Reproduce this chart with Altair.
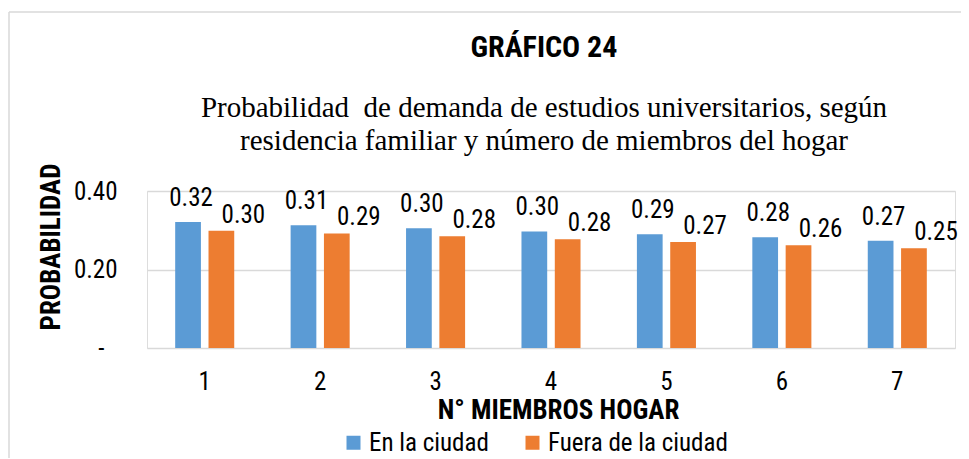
import altair as alt
import pandas as pd

# ---- data ----
miembros = ["1", "2", "3", "4", "5", "6", "7"]
en_ciudad = [0.321, 0.313, 0.305, 0.297, 0.290, 0.282, 0.273]
fuera_ciudad = [0.299, 0.292, 0.285, 0.277, 0.270, 0.262, 0.254]
series = ["En la ciudad", "Fuera de la ciudad"]
colors = ["#5B9BD5", "#ED7D31"]
y_ticks = [0, 0.2, 0.4]

rows = []
for m, a, b in zip(miembros, en_ciudad, fuera_ciudad):
    rows.append({"miembros": m, "serie": series[0], "prob": a})
    rows.append({"miembros": m, "serie": series[1], "prob": b})
df = pd.DataFrame(rows)

sans = "Liberation Sans Narrow, Arial Narrow, Roboto Condensed, sans-serif"
serif = "Liberation Serif, Times New Roman, serif"
grid = "#d9d9d9"

x = alt.X(
    "miembros:N", sort=miembros,
    scale=alt.Scale(paddingInner=0, paddingOuter=0),
    axis=alt.Axis(
        title="N° MIEMBROS HOGAR", labelAngle=0, ticks=False, domain=False,
        labelPadding=21, labelFontSize=25, labelFont=sans, labelColor="#000",
        titleFont=sans, titleFontSize=27, titleFontWeight="bold", titleColor="#000",
        titleX=411, titleY=70, titleBaseline="alphabetic", titleAlign="center",
    ),
)
xo = alt.XOffset("serie:N", sort=series,
                 scale=alt.Scale(domain=series, paddingInner=0.228, paddingOuter=0.846))
y = alt.Y(
    "prob:Q",
    scale=alt.Scale(domain=[0, 0.4], nice=False),
    axis=alt.Axis(
        values=y_ticks, title="PROBABILIDAD",
        labelExpr="datum.value == 0 ? '-' : format(datum.value, '.2f')",
        ticks=False, domain=False, gridColor=grid, gridWidth=1.3,
        labelPadding={"condition": {"test": "datum.value == 0", "value": 43}, "value": 30},
        labelFontSize=25, labelFont=sans, labelColor="#000",
        titleFont=sans, titleFontSize=27, titleFontWeight="bold", titleColor="#000",
        titleAngle=-90, titleX=-88, titleY=55.5, titleBaseline="alphabetic",
        titleAlign="center",
    ),
)

base = alt.Chart(df)

bars = base.mark_bar().encode(
    x=x, xOffset=xo, y=y,
    color=alt.Color(
        "serie:N", sort=series,
        scale=alt.Scale(domain=series, range=colors),
        legend=alt.Legend(
            title=None, orient="none", legendX=194, legendY=239,
            direction="horizontal", symbolType="square", symbolSize=196,
            symbolStrokeWidth=0, labelFontSize=25, labelFont=sans,
            labelColor="#000", labelOffset=3, columnPadding=31, padding=0,
            labelLimit=400,
        ),
    ),
)

txt_blue = base.transform_filter(alt.datum.serie == series[0]).mark_text(
    fontSize=25, font=sans, color="#000", dx=3, dy=-16, baseline="alphabetic"
).encode(x=x, xOffset=xo, y=y, text=alt.Text("prob:Q", format=".2f"))

txt_orange = base.transform_filter(alt.datum.serie == series[1]).mark_text(
    fontSize=25, font=sans, color="#000", dx=22, dy=-8, baseline="alphabetic"
).encode(x=x, xOffset=xo, y=y, text=alt.Text("prob:Q", format=".2f"))

frame_df = pd.DataFrame({"k": [0]})
frame_top = alt.Chart(frame_df).mark_rule(color=grid, strokeWidth=1.5).encode(
    x=alt.value(-138), x2=alt.value(820), y=alt.value(-179)
)
frame_left = alt.Chart(frame_df).mark_rule(color=grid, strokeWidth=1.5).encode(
    x=alt.value(-138), y=alt.value(-179), y2=alt.value(300)
)

chart = alt.layer(frame_top, frame_left, bars, txt_blue, txt_orange).properties(
    width=808, height=157,
    title=alt.TitleParams(
        text="GRÁFICO 24",
        subtitle=["Probabilidad\u00a0 de demanda de estudios universitarios, según",
                  "residencia familiar y número de miembros del hogar"],
        font=sans, fontSize=30, fontWeight="bold", color="#000",
        subtitleFont=serif, subtitleFontSize=29, subtitleColor="#000",
        subtitleLineHeight=33, subtitlePadding=31,
        anchor="middle", frame="group", offset=-145, dx=-7,
    ),
    autosize=alt.AutoSizeParams(type="none"),
    padding={"left": 139, "top": 183, "right": 6, "bottom": 110},
).configure_view(stroke=None).configure(background="#ffffff")

chart.save("out.html", embed_options={"renderer": "svg", "actions": False})
